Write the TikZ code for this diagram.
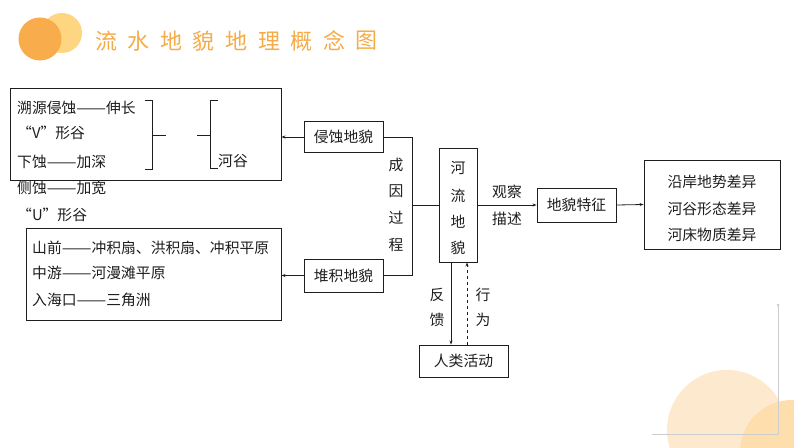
\documentclass[tikz,border=0pt]{standalone}
\usepackage{fontspec}
\setmainfont{Noto Sans CJK SC}
\usetikzlibrary{arrows.meta}
\definecolor{orA}{RGB}{248,172,75}
\definecolor{orB}{RGB}{254,214,130}
\definecolor{orT}{RGB}{245,172,72}
\definecolor{pcA}{RGB}{253,233,206}
\definecolor{pcB}{RGB}{254,222,172}
\definecolor{glc}{RGB}{205,205,205}
\definecolor{ink}{RGB}{30,30,30}
\newcommand\ddash{\scalebox{1.2}[1]{——}}
\begin{document}
\begin{tikzpicture}[x=1pt,y=-1pt,
  box/.style={draw=ink, line width=0.9pt, inner sep=0pt},
  txt/.style={font=\fontsize{14.8}{17}\selectfont, inner sep=0pt, text=ink},
  ttl/.style={font=\fontsize{22}{24}\selectfont, inner sep=0pt, text=orT},
  arr/.style={-{Stealth[length=4pt,width=3pt]}, line width=0.8pt, draw=ink},
  ln/.style={line width=0.8pt, draw=ink}]
% background / bounding box
\fill[white] (0,0) rectangle (794,447);
\useasboundingbox (0,0) rectangle (794,447);
% decoration bottom right
\begin{scope}
\clip (0,0) rectangle (794,447);
\fill[pcA] (727,430) circle (60);
\fill[pcB] (792,452) circle (52);
\end{scope}
\draw[glc, line width=0.8pt] (652,434) -- (778,434) -- (778,305);
\fill[glc] (778,305) circle (1.5);
% title circles
\fill[orB] (62,33) circle (20);
\fill[orA] (40,39) circle (21.5);
\foreach \c [count=\i from 0] in {流,水,地,貌,地,理,概,念,图}
  \node[ttl] (t\i) at (106+32.6*\i,41) {\c};
% boxes
\node[box, minimum width=271pt, minimum height=92pt] (tl) at (145.5,134) {};
\node[box, minimum width=255pt, minimum height=92pt] (bl) at (153.5,274) {};
\node[box, txt, minimum width=79pt, minimum height=31pt] (qs) at (343.5,137) {侵蚀地貌};
\node[box, txt, minimum width=79pt, minimum height=33pt] (dj) at (343.5,275.5) {堆积地貌};
\node[box, minimum width=38pt, minimum height=114pt] (hl) at (458,205) {};
\node[box, txt, minimum width=79pt, minimum height=34pt] (tz) at (576.5,205) {地貌特征};
\node[box, minimum width=136pt, minimum height=89pt] (rb) at (712,204.5) {};
\node[box, txt, minimum width=89pt, minimum height=32pt] (rl) at (463.5,361) {人类活动};
% top-left texts
\node[txt, anchor=west] (a1) at (17,108) {溯源侵蚀\ddash 伸长};
\node[txt, anchor=west] (a2) at (17,133) {“V”形谷};
\node[txt, anchor=west] (a3) at (17,162) {下蚀\ddash 加深};
\node[txt, anchor=west] (a4) at (17,188) {侧蚀\ddash 加宽};
\node[txt, anchor=west] (a5) at (17,215) {“U”形谷};
\node[txt, anchor=west] (hg) at (218,161) {河谷};
% brackets
\draw[ln] (145,100) -- (152,100) -- (152,169) -- (145,169);
\draw[ln] (152,135) -- (166,135);
\draw[ln] (197,135) -- (210,135);
\draw[ln] (218,100) -- (210,100) -- (210,168) -- (218,168);
% bottom-left texts
\node[txt, anchor=west] (b1) at (32,248) {山前\ddash 冲积扇、洪积扇、冲积平原};
\node[txt, anchor=west] (b2) at (32,273) {中游\ddash 河漫滩平原};
\node[txt, anchor=west] (b3) at (32,300) {入海口\ddash 三角洲};
% vertical texts
\foreach \c/\y [count=\i] in {成/165,因/191,过/218,程/245}
  \node[txt] (c\i) at (396,\y) {\c};
\foreach \c/\y [count=\i] in {河/168,流/196,地/222,貌/248}
  \node[txt] (h\i) at (458,\y) {\c};
\node[txt] (gc) at (507,192) {观察};
\node[txt] (ms) at (507,219) {描述};
\node[txt] (f1) at (437,295) {反};
\node[txt] (f2) at (437,320) {馈};
\node[txt] (x1) at (483,295) {行};
\node[txt] (x2) at (483,320) {为};
% right box texts
\node[txt] (r1) at (712,182) {沿岸地势差异};
\node[txt] (r2) at (712,209) {河谷形态差异};
\node[txt] (r3) at (712,235) {河床物质差异};
% connectors
\coordinate (jt) at (412,137);
\draw[arr] (qs.west) -- (qs.west -| tl.east);
\draw[arr] (dj.west) -- (dj.west -| bl.east);
\draw[ln] (qs.east) -- (qs.east -| jt) -- (dj.east -| jt) -- (dj.east);
\draw[ln] (hl.west -| jt) -- (hl.west);
\draw[arr] (hl.east) -- (tz.west);
\draw[arr] (tz.east) -- (rb.west);
\draw[arr] ([xshift=-7pt]hl.south) -- ([xshift=-7pt]hl.south |- rl.north);
\draw[arr, dashed] ([xshift=9pt]hl.south |- rl.north) -- ([xshift=9pt]hl.south);
\end{tikzpicture}
\end{document}
